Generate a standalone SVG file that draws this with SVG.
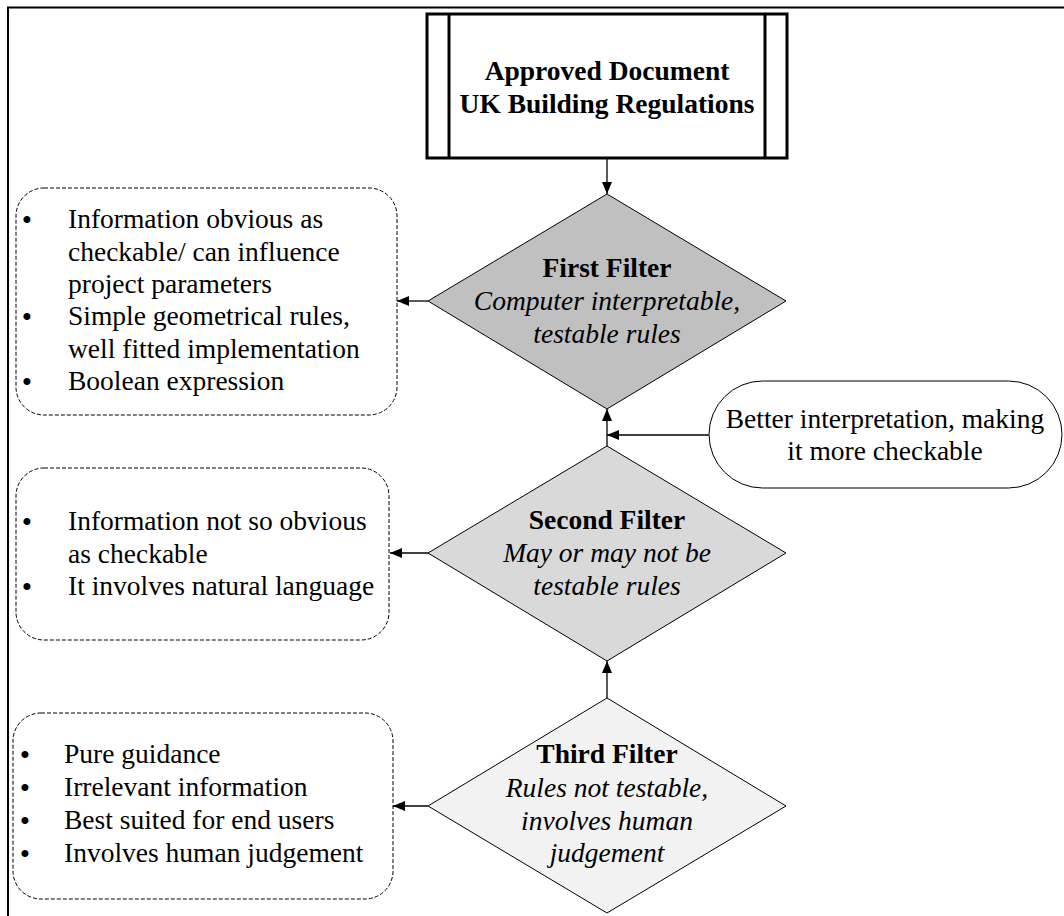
<svg xmlns="http://www.w3.org/2000/svg" width="1064" height="916" viewBox="0 0 1064 916">
<defs>
<marker id="ah" viewBox="0 0 12 10" refX="12" refY="5" markerWidth="12" markerHeight="10" markerUnits="userSpaceOnUse" orient="auto">
<path d="M0,0 L12,5 L0,10 Z" fill="#000"/>
</marker>
<style>
text{font-family:"Liberation Serif","Times New Roman",serif;font-size:27.5px;fill:#000}
.b{font-weight:bold}
.i{font-style:italic}
.c{text-anchor:middle}
.bul{font-size:29.5px;text-anchor:middle}
.dash{fill:#fff;stroke:#000;stroke-width:1;stroke-dasharray:4,2}
.dia{stroke:#000;stroke-width:1}
.con{stroke:#000;stroke-width:1.3;fill:none;marker-end:url(#ah)}
</style>
</defs>
<rect width="1064" height="916" fill="#fff"/>
<path d="M8,916 L8,7.5 L1064,7.5" fill="none" stroke="#000" stroke-width="2"/>

<g id="connectors">
<line class="con" x1="607" y1="158" x2="607" y2="194"/>
<line class="con" x1="428" y1="301" x2="397" y2="301"/>
<line class="con" x1="607" y1="446" x2="607" y2="409"/>
<line class="con" x1="709" y1="435" x2="607" y2="435"/>
<line class="con" x1="428" y1="553" x2="390" y2="553"/>
<line class="con" x1="607" y1="698" x2="607" y2="661"/>
<line class="con" x1="428" y1="806" x2="393" y2="806"/>
</g>

<g id="approved-document">
<rect x="427" y="14" width="360" height="144" fill="#fff" stroke="#000" stroke-width="3"/>
<line x1="449" y1="14" x2="449" y2="158" stroke="#000" stroke-width="3"/>
<line x1="765" y1="14" x2="765" y2="158" stroke="#000" stroke-width="3"/>
<text class="b c" x="607" y="80">Approved Document</text>
<text class="b c" x="607" y="113">UK Building Regulations</text>
</g>

<g id="first-filter">
<polygon class="dia" points="607,194 786,301 607,409 428,301" fill="#c0c0c0"/>
<text class="b c" x="607" y="277">First Filter</text>
<text class="i c" x="607" y="310">Computer interpretable,</text>
<text class="i c" x="607" y="343">testable rules</text>
</g>

<g id="first-notes">
<rect class="dash" x="16" y="188" width="381" height="227" rx="28" ry="28"/>
<text class="bul" x="27" y="229.5">•</text><text x="68" y="228">Information obvious as</text>
<text x="68" y="260.5">checkable/ can influence</text>
<text x="68" y="293">project parameters</text>
<text class="bul" x="27" y="326.5">•</text><text x="68" y="325">Simple geometrical rules,</text>
<text x="68" y="357.5">well fitted implementation</text>
<text class="bul" x="27" y="391.5">•</text><text x="68" y="390">Boolean expression</text>
</g>

<g id="better-interpretation">
<rect x="709" y="381" width="353" height="107" rx="53.5" ry="53.5" fill="#fff" stroke="#000" stroke-width="1"/>
<text class="c" x="885" y="428">Better interpretation, making</text>
<text class="c" x="885" y="460">it more checkable</text>
</g>

<g id="second-filter">
<polygon class="dia" points="607,446 786,553 607,661 428,553" fill="#d9d9d9"/>
<text class="b c" x="607" y="529">Second Filter</text>
<text class="i c" x="607" y="562">May or may not be</text>
<text class="i c" x="607" y="595">testable rules</text>
</g>

<g id="second-notes">
<rect class="dash" x="16" y="468" width="373" height="172" rx="28" ry="28"/>
<text class="bul" x="27" y="531.5">•</text><text x="68" y="530">Information not so obvious</text>
<text x="68" y="562.5">as checkable</text>
<text class="bul" x="27" y="596.5">•</text><text x="68" y="595">It involves natural language</text>
</g>

<g id="third-filter">
<polygon class="dia" points="607,698 786,806 607,913 428,806" fill="#f2f2f2"/>
<text class="b c" x="607" y="763">Third Filter</text>
<text class="i c" x="607" y="797">Rules not testable,</text>
<text class="i c" x="607" y="830">involves human</text>
<text class="i c" x="607" y="862">judgement</text>
</g>

<g id="third-notes">
<rect class="dash" x="13" y="713" width="380" height="186" rx="28" ry="28"/>
<text class="bul" x="25" y="764.5">•</text><text x="64" y="763">Pure guidance</text>
<text class="bul" x="25" y="797.5">•</text><text x="64" y="796">Irrelevant information</text>
<text class="bul" x="25" y="830.5">•</text><text x="64" y="829">Best suited for end users</text>
<text class="bul" x="25" y="863.5">•</text><text x="64" y="862">Involves human judgement</text>
</g>
</svg>
